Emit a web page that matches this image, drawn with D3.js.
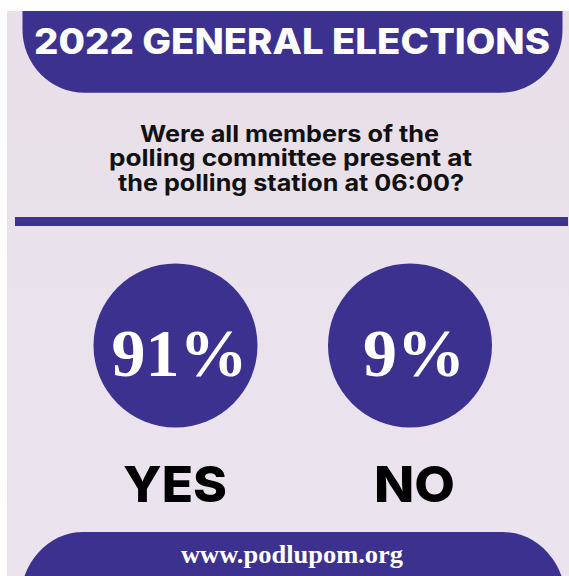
<!DOCTYPE html>
<html>
<head>
<meta charset="utf-8">
<script src="https://cdn.jsdelivr.net/npm/d3@7"></script>
<style>
  html, body { margin: 0; padding: 0; background: #ffffff; }
  svg { display: block; }
</style>
</head>
<body>
<div id="chart"></div>
<script>
// Survey question, answers and shares
const title = "2022 GENERAL ELECTIONS";
const questionLines = [
  "Were all members of the",
  "polling committee present at",
  "the polling station at 06:00?"
];
const categories = ["YES", "NO"];
const shares = [91, 9];
const footer = "www.podlupom.org";

const W = 569, H = 576;
const purple = "#3d3190";
const sans = "Inter, 'Open Sans', 'DejaVu Sans', sans-serif";
const serif = "'Liberation Serif', 'Times New Roman', serif";

const svg = d3.select("#chart").append("svg")
  .attr("width", W).attr("height", H);

// soft lavender backdrop
const defs = svg.append("defs");
const grad = defs.append("linearGradient")
  .attr("id", "bg").attr("x1", 0).attr("y1", 0).attr("x2", 0).attr("y2", 1);
grad.append("stop").attr("offset", "0%").attr("stop-color", "#e8dfe8");
grad.append("stop").attr("offset", "100%").attr("stop-color", "#ebe4ef");

defs.append("filter").attr("id", "soft")
  .attr("x", "-5%").attr("y", "-50%").attr("width", "110%").attr("height", "200%")
  .append("feGaussianBlur").attr("stdDeviation", 0.6);

svg.append("rect").attr("x", 0).attr("y", 0).attr("width", W).attr("height", H)
  .attr("fill", "#ffffff");
svg.append("rect").attr("x", 7).attr("y", 11).attr("width", W - 7).attr("height", H - 11)
  .attr("fill", "url(#bg)");

// header banner, its top edge hidden under the white margin
const header = svg.append("g");
header.append("rect")
  .attr("x", 22.5).attr("y", -60).attr("width", 540).attr("height", 152.7)
  .attr("rx", 62).attr("ry", 63).attr("fill", purple);
svg.append("rect").attr("x", 0).attr("y", 0).attr("width", W).attr("height", 11)
  .attr("fill", "#ffffff");

svg.append("text")
  .attr("x", 292).attr("y", 53.5)
  .attr("text-anchor", "middle")
  .attr("font-family", sans).attr("font-weight", 800)
  .attr("font-size", 35)
  .attr("textLength", 516).attr("lengthAdjust", "spacingAndGlyphs")
  .attr("fill", "#ffffff")
  .text(title);

// question
const qWidths = [299, 363, 346];
const qCenters = [289.5, 290.5, 291];
svg.append("g").selectAll("text")
  .data(questionLines)
  .join("text")
  .attr("x", (d, i) => qCenters[i])
  .attr("y", (d, i) => 142 + i * 24.3)
  .attr("text-anchor", "middle")
  .attr("font-family", sans).attr("font-weight", 700)
  .attr("font-size", 23)
  .attr("textLength", (d, i) => qWidths[i]).attr("lengthAdjust", "spacingAndGlyphs")
  .attr("fill", "#111111")
  .text(d => d);

// divider
svg.append("rect")
  .attr("x", 15).attr("y", 217).attr("width", 553).attr("height", 9)
  .attr("fill", purple).attr("filter", "url(#soft)");

// answer positions
const x = d3.scalePoint().domain(categories).range([175.5, 410]);
const r = 82;
const cy = 345.5;

const answers = categories.map((c, i) => ({ cat: c, value: shares[i] }));

const g = svg.append("g");
g.selectAll("circle")
  .data(answers)
  .join("circle")
  .attr("cx", d => x(d.cat))
  .attr("cy", cy)
  .attr("r", r)
  .attr("fill", purple);

g.selectAll("text.pct")
  .data(answers)
  .join("text")
  .attr("class", "pct")
  .attr("x", d => x(d.cat) + 4)
  .attr("y", 376)
  .attr("text-anchor", "middle")
  .attr("font-family", serif).attr("font-weight", 700)
  .attr("font-size", 68)
  .attr("fill", "#ffffff")
  .text(d => `${d.value}%`);

const labelWidths = { YES: 104, NO: 81 };
const labelCenters = { YES: 175, NO: 414.5 };
g.selectAll("text.cat")
  .data(answers)
  .join("text")
  .attr("class", "cat")
  .attr("x", d => labelCenters[d.cat])
  .attr("y", 501.5)
  .attr("text-anchor", "middle")
  .attr("font-family", sans).attr("font-weight", 800)
  .attr("font-size", 50)
  .attr("textLength", d => labelWidths[d.cat]).attr("lengthAdjust", "spacingAndGlyphs")
  .attr("fill", "#000000")
  .text(d => d.cat);

// footer banner
svg.append("rect")
  .attr("x", 20).attr("y", 532).attr("width", 546).attr("height", 140)
  .attr("rx", 63).attr("ry", 81).attr("fill", purple);

svg.append("text")
  .attr("x", 292).attr("y", 563)
  .attr("text-anchor", "middle")
  .attr("font-family", serif).attr("font-weight", 700)
  .attr("font-size", 26)
  .attr("textLength", 222).attr("lengthAdjust", "spacingAndGlyphs")
  .attr("fill", "#ffffff")
  .text(footer);
</script>
</body>
</html>
